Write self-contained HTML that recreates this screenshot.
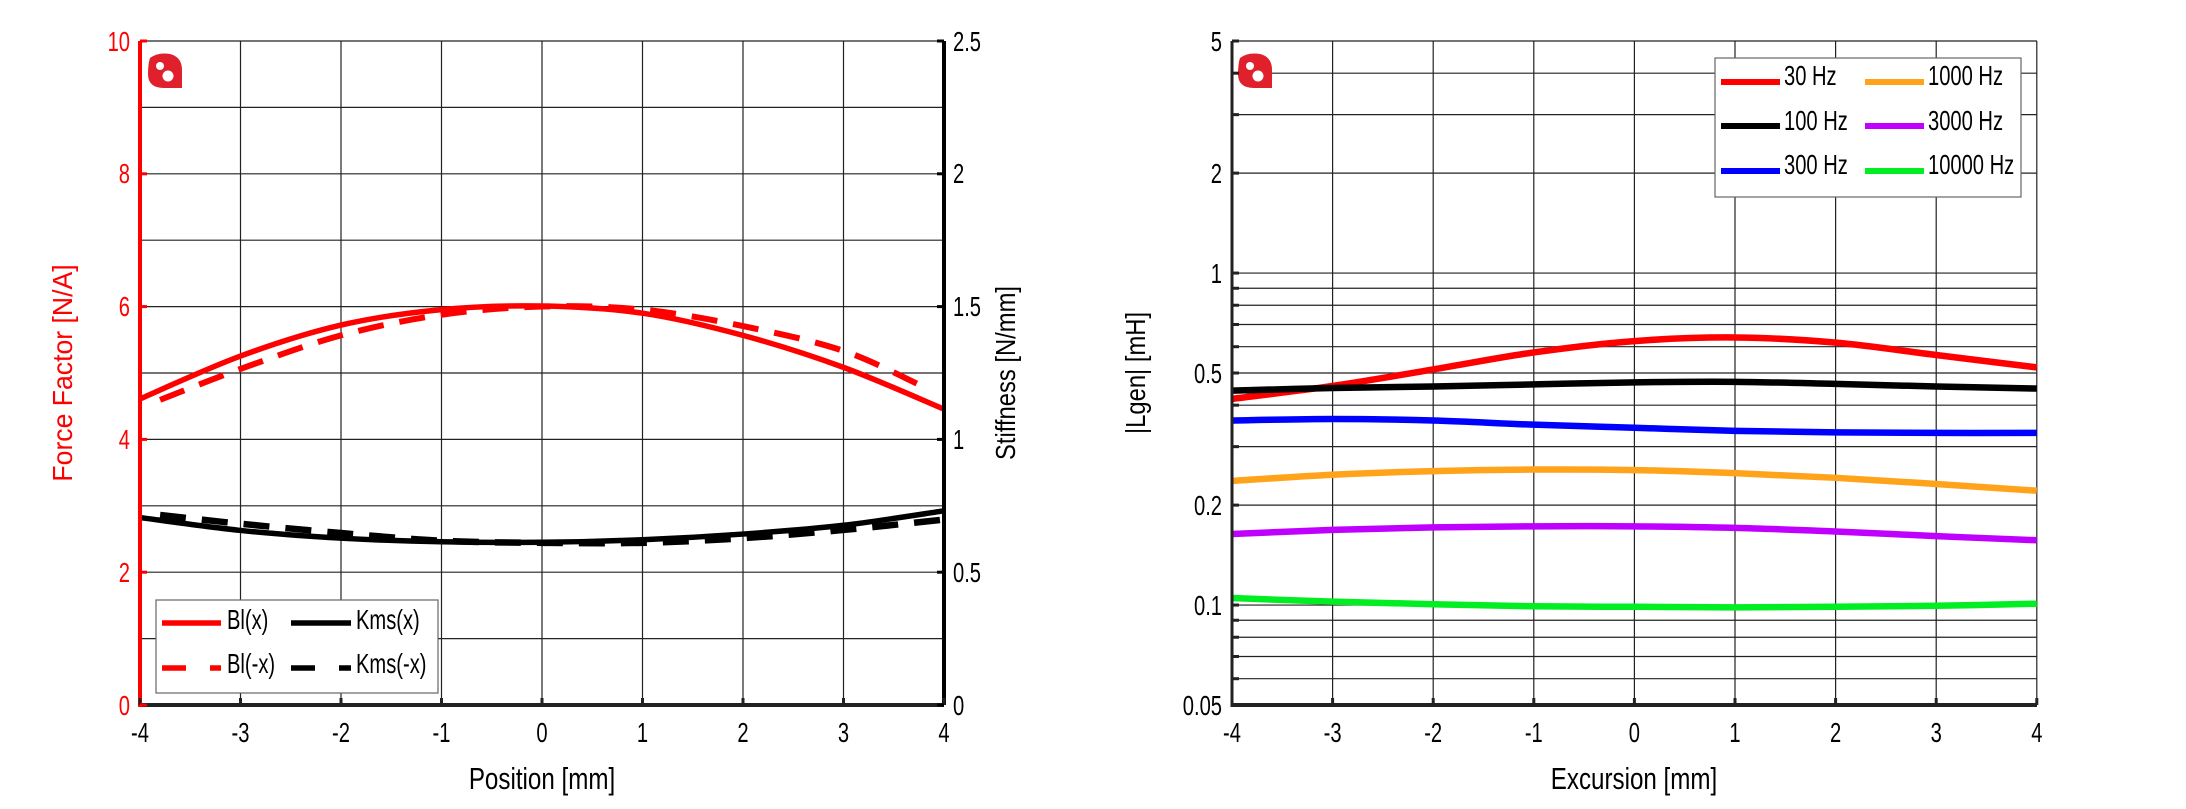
<!DOCTYPE html>
<html><head><meta charset="utf-8"><style>
html,body{margin:0;padding:0;background:#fff}
svg{display:block}
text{font-family:"Liberation Sans Narrow","Liberation Sans",sans-serif}
</style></head><body>
<svg id="s" width="2186" height="809" viewBox="0 0 2186 809" xmlns="http://www.w3.org/2000/svg">
<rect width="2186" height="809" fill="#fff"/>
<g id="grid" stroke="#222" stroke-width="1.2" fill="none"></g>
<g id="curves" fill="none" stroke-width="5.5" stroke-linecap="butt"></g>

<!-- Left axes -->
<line x1="944" y1="41" x2="944" y2="705" stroke="#000" stroke-width="4"/>
<line x1="140" y1="705" x2="944" y2="705" stroke="#222" stroke-width="4"/>
<line x1="140" y1="41" x2="140" y2="707" stroke="#f00" stroke-width="4"/>
<g fill="#f00" font-size="28" text-anchor="end">
<text x="130" y="51" transform="translate(130 0) scale(0.72 1) translate(-130 0)">10</text>
<text x="130" y="183" transform="translate(130 0) scale(0.72 1) translate(-130 0)">8</text>
<text x="130" y="316" transform="translate(130 0) scale(0.72 1) translate(-130 0)">6</text>
<text x="130" y="449" transform="translate(130 0) scale(0.72 1) translate(-130 0)">4</text>
<text x="130" y="582" transform="translate(130 0) scale(0.72 1) translate(-130 0)">2</text>
<text x="130" y="715" transform="translate(130 0) scale(0.72 1) translate(-130 0)">0</text>
</g>
<g fill="#000" font-size="28">
<text x="953" y="51" transform="translate(953 0) scale(0.72 1) translate(-953 0)">2.5</text>
<text x="953" y="183" transform="translate(953 0) scale(0.72 1) translate(-953 0)">2</text>
<text x="953" y="316" transform="translate(953 0) scale(0.72 1) translate(-953 0)">1.5</text>
<text x="953" y="449" transform="translate(953 0) scale(0.72 1) translate(-953 0)">1</text>
<text x="953" y="582" transform="translate(953 0) scale(0.72 1) translate(-953 0)">0.5</text>
<text x="953" y="715" transform="translate(953 0) scale(0.72 1) translate(-953 0)">0</text>
</g>
<g fill="#000" font-size="28" text-anchor="middle" id="xl1"></g>
<text x="542" y="789" font-size="31" text-anchor="middle" transform="translate(542 0) scale(0.78 1) translate(-542 0)">Position [mm]</text>
<text transform="translate(72 373) rotate(-90) scale(0.95 1)" font-size="28" fill="#f00" text-anchor="middle">Force Factor [N/A]</text>
<text transform="translate(1015 373) rotate(-90) scale(0.85 1)" font-size="28" fill="#000" text-anchor="middle">Stiffness [N/mm]</text>

<!-- Left legend -->
<rect x="156" y="600" width="282" height="93" fill="#fff" stroke="#666" stroke-width="1.2"/>
<line x1="162" y1="623" x2="221" y2="623" stroke="#f00" stroke-width="5.5"/>
<line x1="291" y1="623" x2="351" y2="623" stroke="#000" stroke-width="5.5"/>
<line x1="162" y1="668" x2="221" y2="668" stroke="#f00" stroke-width="5.5" stroke-dasharray="24 24"/>
<line x1="291" y1="668" x2="351" y2="668" stroke="#000" stroke-width="5.5" stroke-dasharray="24 24"/>
<g font-size="28" fill="#000">
<text x="227" y="629" transform="translate(227 0) scale(0.72 1) translate(-227 0)">Bl(x)</text>
<text x="356" y="629" transform="translate(356 0) scale(0.72 1) translate(-356 0)">Kms(x)</text>
<text x="227" y="673" transform="translate(227 0) scale(0.72 1) translate(-227 0)">Bl(-x)</text>
<text x="356" y="673" transform="translate(356 0) scale(0.72 1) translate(-356 0)">Kms(-x)</text>
</g>
<!-- logos -->
<g>
<path d="M150 58 q8 -6 20 -4 q12 3 12 16 l0 18 l-18 0 q-16 0 -16 -14 q0 -10 2 -16z" fill="#e0202a"/>
<circle cx="160" cy="66" r="4" fill="#fff"/><circle cx="168" cy="76" r="5.5" fill="#fff"/>
<path d="M1240 58 q8 -6 20 -4 q12 3 12 16 l0 18 l-18 0 q-16 0 -16 -14 q0 -10 2 -16z" fill="#e0202a"/>
<circle cx="1250" cy="66" r="4" fill="#fff"/><circle cx="1258" cy="76" r="5.5" fill="#fff"/>
</g>

<!-- Right axes -->
<line x1="1232" y1="41" x2="1232" y2="707" stroke="#222" stroke-width="3"/>
<line x1="1232" y1="705" x2="2037" y2="705" stroke="#222" stroke-width="4"/>
<g fill="#000" font-size="28" text-anchor="end">
<text x="1222" y="51" transform="translate(1222 0) scale(0.72 1) translate(-1222 0)">5</text>
<text x="1222" y="183" transform="translate(1222 0) scale(0.72 1) translate(-1222 0)">2</text>
<text x="1222" y="283" transform="translate(1222 0) scale(0.72 1) translate(-1222 0)">1</text>
<text x="1222" y="383" transform="translate(1222 0) scale(0.72 1) translate(-1222 0)">0.5</text>
<text x="1222" y="515" transform="translate(1222 0) scale(0.72 1) translate(-1222 0)">0.2</text>
<text x="1222" y="615" transform="translate(1222 0) scale(0.72 1) translate(-1222 0)">0.1</text>
<text x="1222" y="715" transform="translate(1222 0) scale(0.72 1) translate(-1222 0)">0.05</text>
</g>
<g fill="#000" font-size="28" text-anchor="middle" id="xl2"></g>
<text x="1634" y="789" font-size="31" text-anchor="middle" transform="translate(1634 0) scale(0.78 1) translate(-1634 0)">Excursion [mm]</text>
<text transform="translate(1145 373) rotate(-90) scale(0.85 1)" font-size="28" fill="#000" text-anchor="middle">|Lgen| [mH]</text>

<!-- Right legend -->
<rect x="1715" y="58" width="306" height="139" fill="#fff" stroke="#666" stroke-width="1.2"/>
<g stroke-width="6">
<line x1="1721" y1="82" x2="1780" y2="82" stroke="#f00"/>
<line x1="1721" y1="126" x2="1780" y2="126" stroke="#000"/>
<line x1="1721" y1="171" x2="1780" y2="171" stroke="#00f"/>
<line x1="1865" y1="82" x2="1924" y2="82" stroke="#ffa31a"/>
<line x1="1865" y1="126" x2="1924" y2="126" stroke="#c000ff"/>
<line x1="1865" y1="171" x2="1924" y2="171" stroke="#00ee22"/>
</g>
<g font-size="28" fill="#000">
<text x="1784" y="85" transform="translate(1784 0) scale(0.72 1) translate(-1784 0)">30 Hz</text>
<text x="1784" y="130" transform="translate(1784 0) scale(0.72 1) translate(-1784 0)">100 Hz</text>
<text x="1784" y="174" transform="translate(1784 0) scale(0.72 1) translate(-1784 0)">300 Hz</text>
<text x="1928" y="85" transform="translate(1928 0) scale(0.72 1) translate(-1928 0)">1000 Hz</text>
<text x="1928" y="130" transform="translate(1928 0) scale(0.72 1) translate(-1928 0)">3000 Hz</text>
<text x="1928" y="174" transform="translate(1928 0) scale(0.72 1) translate(-1928 0)">10000 Hz</text>
</g>
</svg>
<script>
(function(){
var NS="http://www.w3.org/2000/svg";
var g=document.getElementById('grid'),c=document.getElementById('curves');
function ln(p,x1,y1,x2,y2,col,w){var l=document.createElementNS(NS,'line');l.setAttribute('x1',x1);l.setAttribute('y1',y1);l.setAttribute('x2',x2);l.setAttribute('y2',y2);if(col)l.setAttribute('stroke',col);if(w)l.setAttribute('stroke-width',w);p.appendChild(l);}
for(var i=0;i<=8;i++){var x=140+i*100.5;ln(g,x,41,x,705);}
for(var j=0;j<=10;j++){var y=41+j*66.4;ln(g,140,y,944,y);}
for(var i=0;i<=8;i++){var x=1232+i*100.6;ln(g,x,41,x,705);}
var vals=[5,4,3,2,1,.9,.8,.7,.6,.5,.4,.3,.2,.1,.09,.08,.07,.06,.05];
function ly(v){return 41+Math.log10(5/v)*332;}
vals.forEach(function(v){ln(g,1232,ly(v),2037,ly(v));});
var tk=document.getElementById('s');
for(var i=0;i<=8;i++){ln(tk,140+i*100.5,698,140+i*100.5,705,'#222',3);ln(tk,1232+i*100.6,698,1232+i*100.6,705,'#222',3);}
vals.forEach(function(v){ln(tk,1232,ly(v),1239,ly(v),'#222',3);});
for(var j=0;j<=10;j+=2){ln(tk,140,41+j*66.4,147,41+j*66.4,'#f00',3);ln(tk,937,41+j*66.4,944,41+j*66.4,'#000',3);}
function xl(id,x0,dx){var p=document.getElementById(id);for(var i=0;i<=8;i++){var t=document.createElementNS(NS,'text');var x=x0+i*dx;t.setAttribute('x',x);t.setAttribute('y',742);t.setAttribute('transform','translate('+x+' 0) scale(0.72 1) translate('+(-x)+' 0)');t.textContent=String(i-4);p.appendChild(t);}}
xl('xl1',140,100.5);xl('xl2',1232,100.6);
var K=1.938;
function path(pts,col,dash,w){var d='';
 for(var i=0;i<pts.length-1;i++){var p0=pts[Math.max(0,i-1)],p1=pts[i],p2=pts[i+1],p3=pts[Math.min(pts.length-1,i+2)];
  if(i==0)d+='M'+p1[0]+' '+p1[1];
  d+=' C'+(p1[0]+(p2[0]-p0[0])/6)+' '+(p1[1]+(p2[1]-p0[1])/6)+' '+(p2[0]-(p3[0]-p1[0])/6)+' '+(p2[1]-(p3[1]-p1[1])/6)+' '+p2[0]+' '+p2[1];}
 var e=document.createElementNS(NS,'path');e.setAttribute('d',d);e.setAttribute('stroke',col);if(dash)e.setAttribute('stroke-dasharray',dash);if(w)e.setAttribute('stroke-width',w);c.appendChild(e);}
function L(xs,ys){return xs.map(function(x,i){return [140+(x+4)*100.5,ys[i]/K];});}
function R(ys){return ys.map(function(y,i){return [1232+i*100.6,y/K];});}
var X=[-4,-3,-2,-1,0,1,2,3,4];
path(L(X,[773,690,630,600,593,607,650,712,793]),'#f00');
path(L([-3.8,-3,-2,-1,0,1,2,3,3.8],[775,715,650,610,594,600,632,680,750]),'#f00','26 16',6);
path(L(X,[1003,1028,1043,1050,1051,1046,1035,1018,990]),'#000');
path(L([-3.8,-3,-2,-1,0,1,2,3,4],[998,1015,1033,1048,1052,1052,1043,1027,1007]),'#000','26 16',6.5);
path(R([773,748,716,683,661,654,664,688,712]),'#f00',null,6.5);
path(R([757,752,749,745,741,740,744,749,753]),'#000',null,6.5);
path(R([815,812,815,823,829,835,838,839,839]),'#00f',null,6.5);
path(R([932,920,913,910,911,917,926,938,951]),'#ffa31a',null,6.5);
path(R([1035,1027,1022,1020,1020,1023,1030,1039,1047]),'#c000ff',null,6.5);
path(R([1159,1166,1171,1175,1176,1177,1176,1174,1170]),'#00ee22',null,6.5);
})();
</script>
</body></html>
